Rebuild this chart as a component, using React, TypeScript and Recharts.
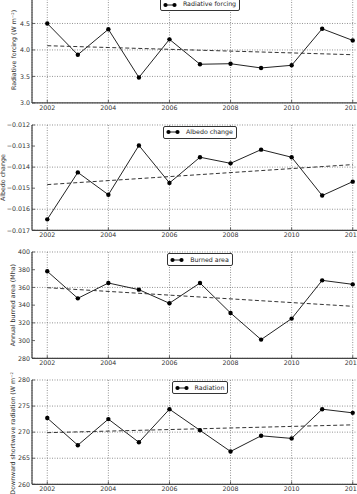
import { LineChart, Line, XAxis, YAxis, CartesianGrid, Legend, Label } from 'recharts';

// yearly series, 2002-2012
const years = [2002, 2003, 2004, 2005, 2006, 2007, 2008, 2009, 2010, 2011, 2012];
const radiativeForcing = [4.5, 3.91, 4.39, 3.48, 4.2, 3.73, 3.74, 3.66, 3.71, 4.4, 4.18];
const albedoChange = [-0.01648, -0.01425, -0.01531, -0.01297, -0.01475, -0.01353, -0.01382, -0.01317, -0.01353, -0.01535, -0.01469];
const burnedArea = [378.2, 347.7, 365, 357.5, 342.1, 365, 331.2, 301.1, 324.8, 368, 363.5];
const radiation = [272.7, 267.5, 272.5, 268.05, 274.4, 270.35, 266.3, 269.3, 268.8, 274.4, 273.7];

// linear trend end points
const trendYears = [2002, 2012];
const forcingTrend = [4.08, 3.91];
const albedoTrend = [-0.01483, -0.01388];
const burnedTrend = [359.7, 338.7];
const radiationTrend = [269.9, 271.4];

const yearTicks = [2002, 2004, 2006, 2008, 2010, 2012];
const forcingTicks = [3.0, 3.5, 4.0, 4.5, 5.0];
const albedoTicks = [-0.017, -0.016, -0.015, -0.014, -0.013, -0.012];
const burnedTicks = [280, 300, 320, 340, 360, 380, 400];
const radiationTicks = [260, 265, 270, 275, 280];

const FONT = 6.3;
const MT = 8; // space above plot area
const XH = 14; // x axis band
const CHART_W = 368;
const YW = 32;
const SPINE = { stroke: '#444', strokeWidth: 1.2 };
const TICK_MARK = { stroke: '#444', strokeWidth: 0.8 };

const minus = (s: string) => s.replace('-', '\u2212');

interface PanelProps {
  values: number[];
  trend: number[];
  ticks: number[];
  fmt: (v: number) => string;
  yLabel: string;
  name: string;
  top: number;
  plotH: number;
  labelX: number;
}

const Panel = ({ values, trend, ticks, fmt, yLabel, name, top, plotH, labelX }: PanelProps) => {
  const rows = years.map((year, i) => ({ year, value: values[i] }));
  const trendRows = trendYears.map((year, i) => ({ year, trend: trend[i] }));
  const domain: [number, number] = [ticks[0], ticks[ticks.length - 1]];

  return (
    <div style={{ position: 'absolute', left: 0, top: top - MT }}>
      <LineChart width={CHART_W} height={MT + plotH + XH} data={rows} margin={{ top: MT, right: 0, bottom: 0, left: 0 }}>
        <CartesianGrid stroke="#777" strokeDasharray="1 1.5" strokeWidth={0.8} />
        {/* negative tick sizes point the tick marks into the plot */}
        <XAxis
          dataKey="year"
          type="number"
          domain={[2001.5, 2012.5]}
          ticks={yearTicks}
          height={XH}
          tickLine={TICK_MARK}
          tickSize={-3}
          tickMargin={5.5}
          tick={{ fontSize: FONT, fill: '#333' }}
          axisLine={SPINE}
        />
        <XAxis
          xAxisId="top"
          orientation="top"
          dataKey="year"
          type="number"
          domain={[2001.5, 2012.5]}
          ticks={yearTicks}
          height={0}
          tick={false}
          tickLine={TICK_MARK}
          tickSize={-3}
          axisLine={SPINE}
        />
        <YAxis
          type="number"
          domain={domain}
          ticks={ticks}
          width={YW}
          tickLine={TICK_MARK}
          tickSize={-3}
          tickMargin={5}
          tickFormatter={fmt}
          tick={{ fontSize: FONT, fill: '#333' }}
          axisLine={SPINE}
        >
          <Label
            content={({ viewBox }: any) => (
              <text
                transform={`translate(${labelX},${viewBox.y + viewBox.height / 2}) rotate(-90)`}
                textAnchor="middle"
                dominantBaseline="central"
                fontSize={FONT}
                fill="#333"
              >
                {yLabel}
              </text>
            )}
          />
        </YAxis>
        <Legend
          layout="horizontal"
          verticalAlign="middle"
          align="center"
          wrapperStyle={{ top: MT + 1.3, left: YW, width: 336 }}
          content={() => (
            <div style={{ display: 'flex', justifyContent: 'center' }}>
              <div
                style={{
                  display: 'flex',
                  alignItems: 'center',
                  height: 11,
                  padding: '0 3px 0 2px',
                  border: '1px solid #333',
                  borderRadius: 2,
                  background: '#fff',
                  fontSize: FONT,
                  color: '#222',
                  lineHeight: 1,
                  whiteSpace: 'nowrap',
                }}
              >
                <svg width={14} height={6}>
                  <line x1={2.5} y1={3} x2={11.5} y2={3} stroke="#222" strokeWidth={1} />
                  <circle cx={2.5} cy={3} r={2.1} fill="#000" />
                  <circle cx={11.5} cy={3} r={2.1} fill="#000" />
                </svg>
                <span style={{ marginLeft: 6 }}>{name}</span>
              </div>
            </div>
          )}
        />
        <Line
          dataKey="value"
          type="linear"
          stroke="#222"
          strokeWidth={1}
          dot={{ r: 2.2, fill: '#000', stroke: '#000', strokeWidth: 0 }}
          activeDot={false}
          isAnimationActive={false}
        />
        <Line
          data={trendRows}
          dataKey="trend"
          type="linear"
          stroke="#333"
          strokeWidth={1}
          strokeDasharray="4 2.5"
          dot={false}
          activeDot={false}
          isAnimationActive={false}
        />
      </LineChart>
    </div>
  );
};

export default function App() {
  return (
    <div
      style={{
        position: 'absolute',
        left: 0,
        top: 0,
        width: 357,
        height: 494,
        overflow: 'hidden',
        background: '#fff',
        fontFamily: '"DejaVu Sans", sans-serif',
      }}
    >
      <Panel
        values={radiativeForcing}
        trend={forcingTrend}
        ticks={forcingTicks}
        fmt={(v) => v.toFixed(1)}
        yLabel="Radiative forcing (W m⁻²)"
        name="Radiative forcing"
        top={-3.2}
        plotH={105.9}
        labelX={13.5}
      />
      <Panel
        values={albedoChange}
        trend={albedoTrend}
        ticks={albedoTicks}
        fmt={(v) => minus(v.toFixed(3))}
        yLabel="Albedo change"
        name="Albedo change"
        top={124.7}
        plotH={105.3}
        labelX={2}
      />
      <Panel
        values={burnedArea}
        trend={burnedTrend}
        ticks={burnedTicks}
        fmt={(v) => String(v)}
        yLabel="Annual burned area (Mha)"
        name="Burned area"
        top={252}
        plotH={106.3}
        labelX={12.5}
      />
      <Panel
        values={radiation}
        trend={radiationTrend}
        ticks={radiationTicks}
        fmt={(v) => String(v)}
        yLabel="Downward shortwave radiation (W m⁻²)"
        name="Radiation"
        top={380}
        plotH={104.3}
        labelX={12.5}
      />
    </div>
  );
}
